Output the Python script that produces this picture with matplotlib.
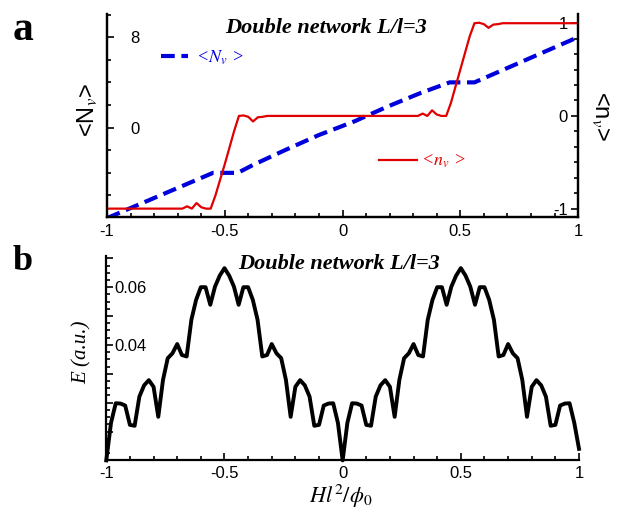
import numpy as np
import matplotlib
matplotlib.use('Agg')
import matplotlib.pyplot as plt
from matplotlib.ticker import MultipleLocator, FuncFormatter

plt.rcParams['font.family'] = ['Liberation Sans', 'DejaVu Sans']
plt.rcParams['mathtext.fontset'] = 'stix'
plt.rcParams['axes.unicode_minus'] = False

# --- data ---
# panel a, blue dashed: <N_v> (left axis)
x_Nv = [-1.0, -0.55, -0.445, -0.38, -0.24, -0.1, 0.05, 0.19, 0.33, 0.455, 0.56, 1.0]
Nv = [-8.0, -4.0, -4.0, -3.3, -1.95, -0.65, 0.55, 1.85, 3.05, 4.0, 4.0, 8.0]

# panel a, red: <n_v> (right axis)
x_nv = [-1.0, -0.68, -0.66, -0.64, -0.62, -0.60, -0.58, -0.56, -0.54, -0.52,
        -0.50, -0.48, -0.46, -0.44, -0.42, -0.40, -0.38, -0.36, -0.34, -0.32,
        0.32, 0.34, 0.36, 0.38, 0.40, 0.42, 0.44, 0.46, 0.48, 0.50,
        0.52, 0.54, 0.56, 0.58, 0.60, 0.62, 0.64, 0.66, 0.68, 1.0]
nv = [-1.0, -1.0, -0.975, -1.0, -0.94, -0.985, -1.0, -1.0, -0.86, -0.69,
      -0.52, -0.34, -0.16, 0.0, 0.005, -0.01, -0.06, -0.015, -0.01, 0.0,
      0.0, 0.025, 0.0, 0.06, 0.015, 0.0, 0.0, 0.14, 0.32, 0.5,
      0.68, 0.86, 1.0, 1.005, 0.99, 0.95, 0.985, 0.99, 1.0, 1.0]

# panel b: energy, sampled every 0.02 from -1 to 1
H = np.linspace(-1, 1, 101)
E = [0.000, 0.013, 0.0198, 0.0197, 0.019, 0.0123, 0.0120, 0.0221, 0.0260, 0.0278,
     0.0255, 0.0151, 0.0279, 0.0354, 0.0371, 0.0403, 0.0365, 0.0360, 0.0487, 0.0556,
     0.0600, 0.0600, 0.0539, 0.0602, 0.0640, 0.0666,
     0.0640, 0.0602, 0.0539, 0.0600, 0.0600, 0.0556, 0.0487, 0.0360, 0.0365, 0.0403,
     0.0371, 0.0354, 0.0279, 0.0151, 0.0255, 0.0278, 0.0260, 0.0221, 0.0120, 0.0123,
     0.019, 0.0197, 0.0198, 0.013, 0.000,
     0.013, 0.0198, 0.0197, 0.019, 0.0123, 0.0120, 0.0221, 0.0260, 0.0278, 0.0255,
     0.0151, 0.0279, 0.0354, 0.0371, 0.0403, 0.0365, 0.0360, 0.0487, 0.0556, 0.0600,
     0.0600, 0.0539, 0.0602, 0.0640, 0.0666,
     0.0640, 0.0602, 0.0539, 0.0600, 0.0600, 0.0556, 0.0487, 0.0360, 0.0365, 0.0403,
     0.0371, 0.0354, 0.0279, 0.0151, 0.0255, 0.0278, 0.0260, 0.0221, 0.0120, 0.0123,
     0.019, 0.0197, 0.0198, 0.013, 0.004]

xticks = [-1, -0.5, 0, 0.5, 1]
xticklabels = ['-1', '-0.5', '0', '0.5', '1']
title = 'Double network L/l=3'

blue = '#0000dc'
red = '#e00000'

fig = plt.figure(figsize=(6.19, 5.26), dpi=100)

# ---------------- panel a ----------------
ax = fig.add_axes([0.1729, 0.5875, 0.761, 0.386])
ax2 = ax.twinx()

l1, = ax.plot(x_Nv, Nv, color=blue, lw=3.0, dashes=(3.3, 1.6), label=r'<$N_{v}$ >')
l2, = ax2.plot(x_nv, nv, color=red, lw=1.6, label=r'<$n_{v}$ >')

ax.set_xlim(-1, 1)
ax.set_ylim(-7.9, 10.05)
ax2.set_ylim(-1.09, 1.1)
for a in (ax, ax2):
    a.spines['top'].set_visible(False)
    for s in ('left', 'right', 'bottom'):
        a.spines[s].set_linewidth(1.6)

ax.set_xticks(xticks)
ax.set_xticklabels(xticklabels)
ax.xaxis.set_minor_locator(MultipleLocator(0.1))
ax.set_yticks([0, 8])
ax.yaxis.set_minor_locator(MultipleLocator(2))
ax.tick_params(axis='x', which='both', direction='in', labelsize=12, pad=5)
ax.tick_params(axis='x', which='major', length=5, width=1.2)
ax.tick_params(axis='x', which='minor', length=3, width=1.2)
ax.tick_params(axis='y', which='both', direction='in', labelsize=12, pad=-16.5, width=1.2)
ax.tick_params(axis='y', which='major', length=5)
ax.tick_params(axis='y', which='minor', length=3)
for lab in ax.get_yticklabels():
    lab.set_horizontalalignment('left')

ax2.set_yticks([-1, 0, 1])
ax2.yaxis.set_minor_locator(MultipleLocator(1 / 6))
ax2.tick_params(axis='y', which='both', direction='in', labelsize=12, pad=-7.5, width=1.2)
ax2.tick_params(axis='y', which='major', length=5)
ax2.tick_params(axis='y', which='minor', length=3)
for lab in ax2.get_yticklabels():
    lab.set_horizontalalignment('right')

ax.text(-0.04, 0.527, r'<N$_{v}$>', transform=ax.transAxes, rotation=90,
        ha='center', va='center', fontsize=17)
ax2.text(1.047, 0.498, r'<n$_{v}$>', transform=ax2.transAxes, rotation=270,
         ha='center', va='center', fontsize=17)
ax2.text(0.465, 0.931, title, transform=ax2.transAxes, ha='center', va='center',
         fontsize=16, family='Liberation Serif', fontweight='bold', fontstyle='italic')

leg_prop = {'family': 'Liberation Serif', 'style': 'italic', 'size': 13}
leg1 = ax2.legend(handles=[l1], loc='center left', bbox_to_anchor=(0.115, 0.785),
                  frameon=False, prop=leg_prop, handlelength=1.5, handletextpad=0.4,
                  borderpad=0, borderaxespad=0, labelcolor=blue)
ax2.add_artist(leg1)
ax2.legend(handles=[l2], loc='center left', bbox_to_anchor=(0.578, 0.272),
           frameon=False, prop=leg_prop, handlelength=2.1, handletextpad=0.2,
           borderpad=0, borderaxespad=0, labelcolor=red)

# ---------------- panel b ----------------
bx = fig.add_axes([0.1717, 0.1247, 0.7637, 0.3886])
bx.plot(H, E, color='black', lw=2.8, clip_on=False, solid_joinstyle='round')
bx.set_xlim(-1, 1)
bx.set_ylim(0, 0.0708)
bx.spines['top'].set_visible(False)
bx.spines['right'].set_visible(False)
for s in ('left', 'bottom'):
    bx.spines[s].set_linewidth(1.6)

bx.set_xticks(xticks)
bx.set_xticklabels(xticklabels)
bx.xaxis.set_minor_locator(MultipleLocator(0.1))
bx.yaxis.set_major_locator(MultipleLocator(0.01))
bx.yaxis.set_minor_locator(MultipleLocator(0.0025))
bx.yaxis.set_major_formatter(FuncFormatter(
    lambda v, p: '%.2f' % v if round(v, 3) in (0.04, 0.06) else ''))
bx.tick_params(axis='x', which='both', direction='in', labelsize=12, pad=4)
bx.tick_params(axis='x', which='major', length=5, width=1.2)
bx.tick_params(axis='x', which='minor', length=3, width=1.2)
bx.tick_params(axis='y', which='both', direction='in', labelsize=12, pad=-6, width=1.2)
bx.tick_params(axis='y', which='major', length=5)
bx.tick_params(axis='y', which='minor', length=3)
for lab in bx.get_yticklabels():
    lab.set_horizontalalignment('left')

bx.text(-0.051, 0.53, 'E (a.u.)', transform=bx.transAxes, rotation=90,
        ha='center', va='center', fontsize=15, family='Liberation Serif',
        fontstyle='italic')
bx.text(0.4965, -0.178, r'$Hl^{2}/\phi_{0}$', transform=bx.transAxes,
        ha='center', va='center', fontsize=16)
bx.text(0.492, 0.961, title, transform=bx.transAxes, ha='center', va='center',
        fontsize=16, family='Liberation Serif', fontweight='bold', fontstyle='italic')

fig.text(0.021, 0.924, 'a', fontsize=30, fontweight='bold', family='Liberation Serif')
fig.text(0.021, 0.487, 'b', fontsize=26, fontweight='bold', family='Liberation Serif')

fig.savefig('out.png', dpi=100)
